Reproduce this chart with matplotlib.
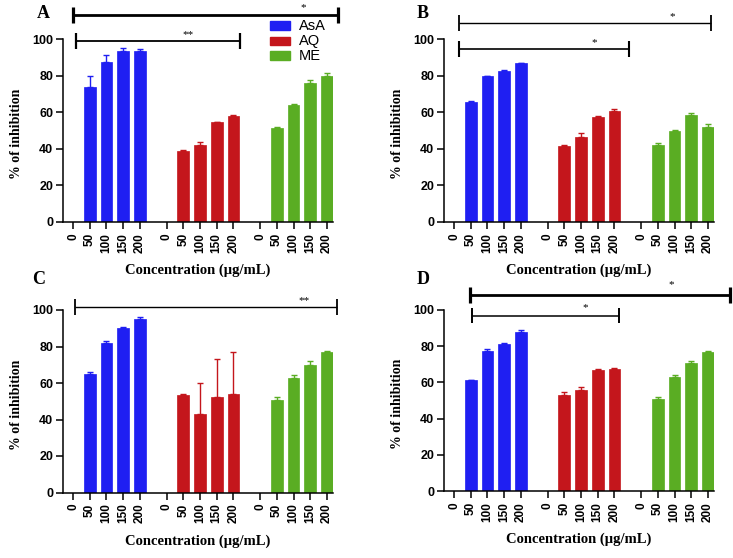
import numpy as np
import matplotlib
matplotlib.use("Agg")
import matplotlib.pyplot as plt
from matplotlib.patches import Rectangle

# ---------------- data ----------------
concentrations = ["0", "50", "100", "150", "200"]
groups = ["AsA", "AQ", "ME"]
colors = ["#1f1ff2", "#c4161c", "#5aad23"]

# values for concentrations 50..200 (0 has no bar)
A_vals = {"AsA": [73.6, 87.6, 93.5, 93.5], "AQ": [38.9, 42.2, 54.4, 57.8], "ME": [51.6, 64.0, 76.0, 80.0]}
A_errs = {"AsA": [6.4, 3.7, 1.4, 0.9], "AQ": [0.4, 1.3, 0.5, 0.4], "ME": [0.3, 0.4, 1.5, 1.3]}
B_vals = {"AsA": [65.5, 79.6, 82.5, 86.7], "AQ": [41.4, 46.5, 57.5, 60.6], "ME": [42.3, 49.6, 58.2, 52.0]}
B_errs = {"AsA": [0.4, 0.4, 0.4, 0.3], "AQ": [0.9, 1.9, 0.3, 1.1], "ME": [0.9, 0.8, 1.1, 1.3]}
C_vals = {"AsA": [64.8, 81.8, 90.3, 95.1], "AQ": [53.6, 43.1, 52.2, 54.0], "ME": [50.8, 63.0, 70.0, 77.0]}
C_errs = {"AsA": [1.3, 1.0, 0.6, 0.9], "AQ": [0.6, 16.9, 20.8, 22.8], "ME": [1.7, 1.5, 2.0, 0.3]}
D_vals = {"AsA": [61.1, 77.3, 81.0, 87.8], "AQ": [53.0, 55.9, 66.8, 67.5], "ME": [50.9, 63.1, 70.5, 76.8]}
D_errs = {"AsA": [0.5, 1.1, 0.7, 1.1], "AQ": [1.6, 1.8, 0.5, 0.6], "ME": [1.1, 1.1, 1.1, 0.3]}

# significance brackets: (x_start, x_end, y, label, label_x, label_y, lw)
A_sig = [(0.0, 15.87, 113.1, "*", 13.8, 117.0, 2.0), (0.18, 10.0, 98.9, "**", 6.9, 102.6, 1.3)]
B_sig = [(0.3, 15.4, 108.7, "*", 13.05, 112.0, 1.0), (0.3, 10.5, 94.5, "*", 8.4, 97.8, 1.2)]
C_sig = [(0.12, 15.8, 101.6, "**", 13.8, 105.4, 1.0)]
D_sig = [(0.96, 16.5, 108.3, "*", 13.0, 113.8, 2.0), (1.08, 9.9, 96.8, "*", 7.85, 101.1, 1.1)]

GROUP_OFFSET = 5.6
BAR_W = 0.7

SANS = ["Liberation Sans", "DejaVu Sans"]
SERIF = ["Liberation Serif", "DejaVu Serif"]

W, H = 733, 558
fig = plt.figure(figsize=(W / 100, H / 100), dpi=100)


def add_axes(left_px, top_px, right_px, bottom_px):
    return fig.add_axes([left_px / W, 1 - bottom_px / H, (right_px - left_px) / W, (bottom_px - top_px) / H])


def draw_panel(ax, vals, errs, sigs, letter, letter_xy):
    xt = []
    for g, name in enumerate(groups):
        base = g * GROUP_OFFSET
        pos = [base + i for i in range(5)]
        xt.extend(pos)
        ax.bar(pos[1:], vals[name], width=BAR_W, color=colors[g], edgecolor=colors[g], linewidth=0.5, zorder=2)
        ax.errorbar(pos[1:], vals[name], yerr=[np.zeros(4), errs[name]], fmt="none",
                    ecolor=colors[g], elinewidth=1.0, capsize=2.5, capthick=1.0, zorder=3)
    labels = concentrations * 3
    ax.set_xticks(xt)
    ax.set_xticklabels(labels, rotation=90, fontfamily=SANS, fontweight="bold", fontsize=8.5, va="top")
    ax.set_xlim(-0.6, 15.56)
    ax.set_ylim(0, 100)
    ax.set_yticks([0, 20, 40, 60, 80, 100])
    ax.set_yticklabels(["0", "20", "40", "60", "80", "100"], fontfamily=SANS, fontweight="bold", fontsize=9)
    for s in ["top", "right"]:
        ax.spines[s].set_visible(False)
    for s in ["left", "bottom"]:
        ax.spines[s].set_linewidth(1.1)
    ax.tick_params(axis="both", direction="out", length=5, width=1.1, pad=2)
    ax.tick_params(axis="x", pad=3)
    ax.set_ylabel("% of inhibition", fontfamily=SERIF, fontweight="bold", fontsize=10)
    ax.yaxis.set_label_coords(-0.148, 0.48)
    ax.text(0.5, -0.265, "Concentration (\u00b5g/mL)", transform=ax.transAxes, ha="center", va="center",
            fontfamily=SERIF, fontweight="bold", fontsize=10.5)
    for (x0, x1, y, lab, lx, ly, lw) in sigs:
        ax.plot([x0, x1], [y, y], color="black", lw=lw, clip_on=False, solid_capstyle="butt")
        for xx in (x0, x1):
            ax.plot([xx, xx], [y - 4.2, y + 4.2], color="black", lw=lw + 0.3, clip_on=False,
                    solid_capstyle="butt")
        ax.text(lx, ly, lab, ha="center", va="center", fontsize=8, fontfamily=SERIF, clip_on=False)
    fig.text(letter_xy[0] / W, 1 - letter_xy[1] / H, letter, ha="center", va="center",
             fontfamily=SERIF, fontweight="bold", fontsize=13)


axA = add_axes(63, 39, 333, 222)
axB = add_axes(444, 39, 714, 222)
axC = add_axes(63, 310, 333, 492.5)
axD = add_axes(444, 310, 714, 491)

draw_panel(axA, A_vals, A_errs, A_sig, "A", (43, 13))
draw_panel(axB, B_vals, B_errs, B_sig, "B", (423, 13))
draw_panel(axC, C_vals, C_errs, C_sig, "C", (39, 279))
draw_panel(axD, D_vals, D_errs, D_sig, "D", (423, 279))

# legend (drawn in figure pixel positions)
legend_rows_y = [25.5, 41.0, 55.5]
for c, name, yc in zip(colors, groups, legend_rows_y):
    fig.patches.append(Rectangle((270 / W, 1 - (yc + 4) / H), 20 / W, 8 / H, facecolor=c, edgecolor=c,
                                 transform=fig.transFigure, figure=fig))
    fig.text(299 / W, 1 - yc / H, name, ha="left", va="center", fontfamily=SANS, fontsize=10.5)

fig.savefig("out.png", dpi=100)
